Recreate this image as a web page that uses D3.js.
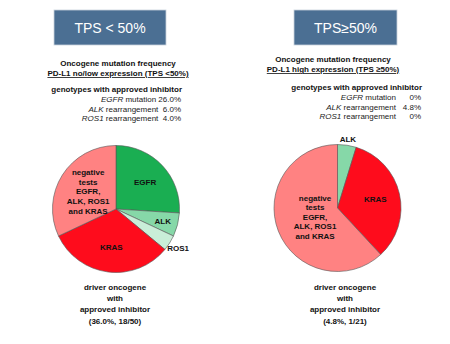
<!DOCTYPE html>
<html><head><meta charset="utf-8">
<script src="https://cdn.jsdelivr.net/npm/d3@7"></script>
<style>
html,body{margin:0;padding:0;background:#fff;}
svg{display:block;font-family:"Liberation Sans",Arial,sans-serif;}
text{white-space:pre;}
</style></head>
<body>
<svg id="chart" width="450" height="344"></svg>
<script>
// ---- data ----
const panelTitles = ["TPS < 50%", "TPS\u226550%"];
const headings = ["Oncogene mutation frequency", "Oncogene mutation frequency"];
const subHeadings = ["PD-L1 no/low expression (TPS <50%)", "PD-L1 high expression (TPS \u226550%)"];
const genoTitle = "genotypes with approved inhibitor";
const genoGenes = ["EGFR", "ALK", "ROS1"];
const genoKinds = ["mutation", "rearrangement", "rearrangement"];
const genoLow = ["26.0%", "6.0%", "4.0%"];
const genoHigh = ["0%", "4.8%", "0%"];

const lowCategories = ["EGFR", "ALK", "ROS1", "KRAS", "negative"];
const lowValues = [13, 3, 2, 16, 16];      // n = 50
const highCategories = ["ALK", "KRAS", "negative"];
const highValues = [1, 7, 13];             // n = 21

const footerLow = ["driver oncogene", "with", "approved inhibitor", "(36.0%, 18/50)"];
const footerHigh = ["driver oncogene", "with", "approved inhibitor", "(4.8%, 1/21)"];

// ---- styles ----
const colors = {EGFR:"#1aae52", ALK:"#86d8a8", ROS1:"#c9eed8", KRAS:"#fe0c1c", negative:"#ff8282"};
const labelText = {
  EGFR:["EGFR"], ALK:["ALK"], ROS1:["ROS1"], KRAS:["KRAS"],
  negative:["negative","tests","EGFR,","ALK, ROS1","and KRAS"]
};

const svg = d3.select("#chart");
svg.append("rect").attr("width",450).attr("height",344).attr("fill","#fff");

const R = 63.5;
const panels = [
  {cx:116, cy:209, boxX:54, boxW:112, title:panelTitles[0], head:headings[0], sub:subHeadings[0],
   cats:lowCategories, vals:lowValues, footer:footerLow, textCx:118,
   labelR:{EGFR:0.63, ALK:0.76, ROS1:1.16, KRAS:0.6, negative:0.52},
   labelDA:{}},
  {cx:337.5, cy:208, boxX:294, boxW:103, title:panelTitles[1], head:headings[1], sub:subHeadings[1],
   cats:highCategories, vals:highValues, footer:footerHigh, textCx:333,
   labelR:{ALK:1.1, KRAS:0.61, negative:0.38},
   labelDA:{}}
];

panels.forEach((p, i) => {
  const g = svg.append("g");
  // title box
  g.append("rect").attr("x",p.boxX).attr("y",10).attr("width",p.boxW).attr("height",35)
    .attr("fill","#4b6f93").attr("stroke","#c8d2dc").attr("stroke-width",0.8);
  g.append("text").attr("x",p.boxX+p.boxW/2).attr("y",32.5).attr("text-anchor","middle")
    .attr("font-size",14).attr("fill","#fff").text(p.title);

  const y0 = i===0 ? 66 : 62;
  g.append("text").attr("x",p.textCx).attr("y",y0).attr("text-anchor","middle")
    .attr("font-size",8).attr("font-weight","bold").attr("fill","#111").text(p.head);
  g.append("text").attr("x",p.textCx).attr("y",y0+10).attr("text-anchor","middle")
    .attr("font-size",8).attr("font-weight","bold").attr("fill","#111")
    .attr("text-decoration","underline").text(p.sub);

  const gy = i===0 ? 92 : 90;
  if (i===0) {
    g.append("text").attr("x",182).attr("y",gy).attr("text-anchor","end")
      .attr("font-size",8).attr("font-weight","bold").attr("fill","#111").text(genoTitle);
    genoGenes.forEach((gene, k) => {
      const t = g.append("text").attr("x",181).attr("y",gy+10+k*9.5).attr("text-anchor","end")
        .attr("font-size",8).attr("fill","#222");
      t.append("tspan").attr("font-style","italic").text(gene);
      t.append("tspan").text(" " + genoKinds[k] + (genoLow[k].length<5 ? "  " : " ") + genoLow[k]);
    });
  } else {
    g.append("text").attr("x",422).attr("y",gy).attr("text-anchor","end")
      .attr("font-size",8).attr("font-weight","bold").attr("fill","#111").text(genoTitle);
    genoGenes.forEach((gene, k) => {
      const t = g.append("text").attr("x",396).attr("y",gy+10+k*9.5).attr("text-anchor","end")
        .attr("font-size",8).attr("fill","#222");
      t.append("tspan").attr("font-style","italic").text(gene);
      t.append("tspan").text(" " + genoKinds[k]);
      g.append("text").attr("x",421).attr("y",gy+10+k*9.5).attr("text-anchor","end")
        .attr("font-size",8).attr("fill","#222").text(genoHigh[k]);
    });
  }

  // pie
  const data = p.cats.map((c, k) => ({cat:c, value:p.vals[k]}));
  const pie = d3.pie().value(d => d.value).sort(null);
  const arcs = pie(data);
  const arc = d3.arc().innerRadius(0).outerRadius(R);
  const pg = g.append("g").attr("transform", `translate(${p.cx},${p.cy})`);
  pg.selectAll("path").data(arcs).join("path")
    .attr("d", arc).attr("fill", d => colors[d.data.cat])
    .attr("stroke","#555").attr("stroke-width",0.6);

  arcs.forEach(a => {
    const mid = (a.startAngle + a.endAngle)/2;
    const r = R * p.labelR[a.data.cat];
    const x = Math.sin(mid) * r, y = -Math.cos(mid) * r;
    const lines = labelText[a.data.cat];
    const lh = 9.6;
    const t = pg.append("text").attr("text-anchor","middle").attr("font-size",8)
      .attr("font-weight","bold").attr("fill","#111");
    lines.forEach((ln, k) => {
      t.append("tspan").attr("x", x).attr("y", y + 3 + (k - (lines.length-1)/2)*lh).text(ln);
    });
  });

  // footer
  const fcx = i===0 ? 115 : 345;
  const ft = g.append("text").attr("text-anchor","middle").attr("font-size",8)
    .attr("font-weight","bold").attr("fill","#111");
  p.footer.forEach((ln, k) => {
    ft.append("tspan").attr("x", fcx).attr("y", 290 + k*11.2).text(ln);
  });
});
</script>
</body></html>
